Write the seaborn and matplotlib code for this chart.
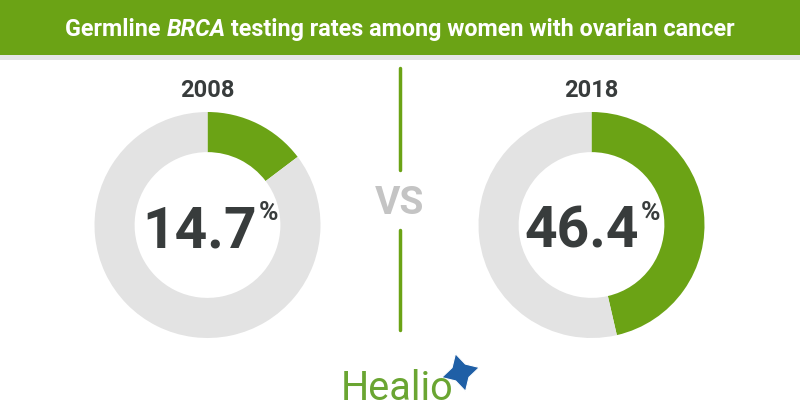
import matplotlib
matplotlib.use("Agg")
import matplotlib.pyplot as plt
import seaborn as sns
from matplotlib.patches import Rectangle
from matplotlib.lines import Line2D

sns.set_theme(style="white")
plt.rcParams['font.family'] = ['Roboto', 'DejaVu Sans']

years = ["2008", "2018"]
rates = [14.7, 46.4]
labels = ["14.7", "46.4"]
title_parts = ["Germline ", "BRCA", " testing rates among women with ovarian cancer"]

GREEN = "#6ba315"
RING = "#e3e3e3"
DARK = "#383c3c"

W, H = 800, 420
fig = plt.figure(figsize=(8, 4.2), dpi=100)
fig.patch.set_facecolor("white")


def px(x, y):
    return x / W, 1 - y / H


# header
fig.patches.append(Rectangle((0, 1 - 55/H), 1, 55/H, transform=fig.transFigure,
                             facecolor=GREEN, edgecolor="none", zorder=0))
fig.patches.append(Rectangle((0, 1 - 60/H), 1, 5/H, transform=fig.transFigure,
                             facecolor="#e6e6e6", edgecolor="none", zorder=0))

renderer = fig.canvas.get_renderer()
styles = ["normal", "italic", "normal"]
tsize = 16.8
tmp = [fig.text(0, 0, t, fontsize=tsize, fontweight="bold", style=s)
       for t, s in zip(title_parts, styles)]
widths = [t.get_window_extent(renderer).width for t in tmp]
for t in tmp:
    t.remove()
x = (W - sum(widths)) / 2
for t, s, w in zip(title_parts, styles, widths):
    fig.text(x / W, 1 - 36/H, t, ha="left", va="baseline", color="white",
             fontsize=tsize, fontweight="bold", style=s)
    x += w

centers = [207.5, 591.5]
cy = 225
R = 113
num_x = [200, 582]
for cx, yr, val, lab, nx in zip(centers, years, rates, labels, num_x):
    ax = fig.add_axes([(cx - R)/W, (H - cy - R)/H, 2*R/W, 2*R/H])
    ax.pie([val, 100 - val], colors=[GREEN, RING], startangle=90, counterclock=False,
           radius=1, wedgeprops=dict(width=0.355, edgecolor="none"))
    ax.set_xlim(-1, 1)
    ax.set_ylim(-1, 1)
    ax.set_aspect("auto")
    ax.axis("off")
    num = fig.text(*px(nx, 248), lab, ha="center", va="baseline", fontsize=41,
                   fontweight="bold", color=DARK)
    right = num.get_window_extent(renderer).x1
    fig.text(right / W + 1 / W, 1 - 201/H, "%", ha="left", va="top", fontsize=19,
             fontweight="bold", color=DARK)
    fig.text(*px(cx, 97), yr, ha="center", va="baseline", fontsize=17,
             fontweight="bold", color=DARK)

# divider
fig.add_artist(Line2D([400/W, 400/W], [1 - 68/H, 1 - 170/H],
                      transform=fig.transFigure, color=GREEN, lw=2.5))
fig.add_artist(Line2D([400/W, 400/W], [1 - 230/H, 1 - 330/H],
                      transform=fig.transFigure, color=GREEN, lw=2.5))
fig.text(*px(400, 214), "VS", ha="center", va="baseline", fontsize=28,
         fontweight="bold", color="#c4c4c4")

# logo
fig.text(*px(397, 400), "Healio", ha="center", va="baseline", fontsize=28.5,
         color="#6aa532")
fig.add_artist(Line2D([460/W], [1 - 372/H], transform=fig.transFigure,
                      marker=(4, 1, 15), markersize=28, color="#1f5fa6",
                      markeredgecolor="white", markeredgewidth=0.8, linestyle="none"))

fig.savefig("out.png", dpi=100, facecolor="white")
